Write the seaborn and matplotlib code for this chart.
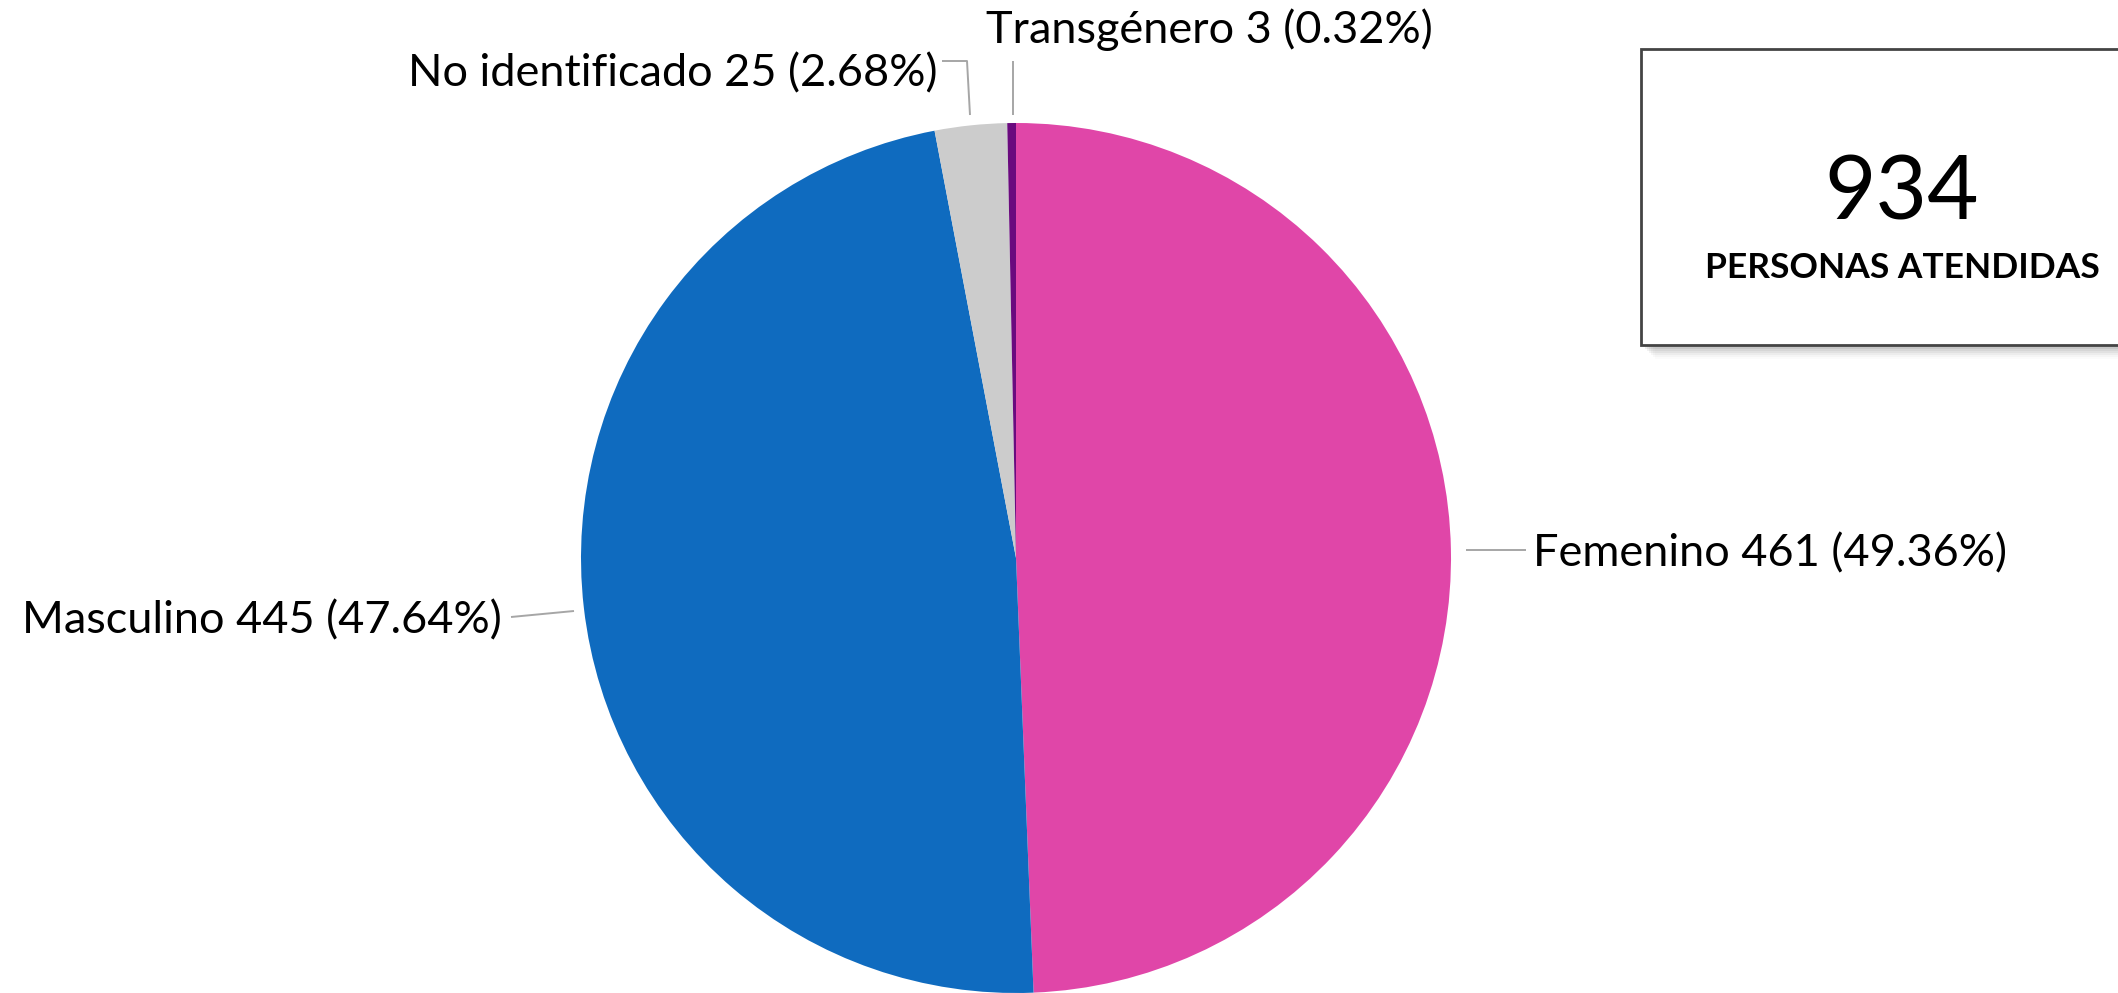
import numpy as np
import seaborn as sns
import matplotlib.pyplot as plt
from matplotlib.patches import Rectangle

# data
categories = ['Femenino', 'Masculino', 'No identificado', 'Transgénero']
counts = [461, 445, 25, 3]
percents = [49.36, 47.64, 2.68, 0.32]
total = 934
colors = ['#E046A8', '#0F6BBF', '#CCCCCC', '#6A0A7E']

W, H = 2118, 993

sns.set_theme(style='white')
plt.rcParams['font.family'] = ['Lato', 'DejaVu Sans']

fig = plt.figure(figsize=(W / 100, H / 100), dpi=100)
ax = fig.add_axes([0, 0, 1, 1])


def py(y):
    # pixel row (from top) -> axes y
    return H - y


cx, cy, r = 1016, 558, 435
wedges, _ = ax.pie(counts, colors=colors, startangle=90, counterclock=False,
                   center=(cx, py(cy)), radius=r, frame=True,
                   wedgeprops=dict(linewidth=0))
ax.set_xlim(0, W)
ax.set_ylim(0, H)
ax.set_aspect('equal')
ax.axis('off')

# labels: text position, alignment, leader path (pixel coords)
label_layout = {
    'Femenino': dict(xy=(1533, 554), ha='left',
                     path=[(1466, 550), (1526, 550)]),
    'Masculino': dict(xy=(502, 621), ha='right',
                      path=[(574, 611), (511, 617)]),
    'No identificado': dict(xy=(937, 74), ha='right',
                            path=[(970, 115), (967, 61), (942, 61)]),
    'Transgénero': dict(xy=(986, 30), ha='left',
                        path=[(1013, 115), (1013, 61)]),
}

line_col = '#a6a6a6'
for name, n, p in zip(categories, counts, percents):
    lay = label_layout[name]
    xs = [q[0] for q in lay['path']]
    ys = [py(q[1]) for q in lay['path']]
    ax.plot(xs, ys, color=line_col, lw=1.4, solid_capstyle='butt')
    ax.text(lay['xy'][0], py(lay['xy'][1]), f'{name} {n} ({p:.2f}%)',
            ha=lay['ha'], va='center', fontsize=32.5, color='black')

# summary box with soft shadow
bx0, by0, bx1, by1 = 1641, 49, 2160, 345
for k, a in enumerate(np.linspace(0.10, 0.02, 6)):
    off = 4 + k * 2
    ax.add_patch(Rectangle((bx0 + off, py(by1 + off)), bx1 - bx0, by1 - by0,
                           facecolor='#555555', edgecolor='none', alpha=a,
                           zorder=3))
ax.add_patch(Rectangle((bx0, py(by1)), bx1 - bx0, by1 - by0,
                       facecolor='white', edgecolor='#444444', lw=2, zorder=4))
ax.text(1902, py(195), f'{total}', ha='center', va='center', fontsize=64,
        color='black', zorder=5)
ax.text(1902, py(268), 'PERSONAS ATENDIDAS', ha='center', va='center',
        fontsize=25.5, fontweight='bold', color='black', zorder=5)

fig.savefig('out.png', dpi=100, facecolor='white')
